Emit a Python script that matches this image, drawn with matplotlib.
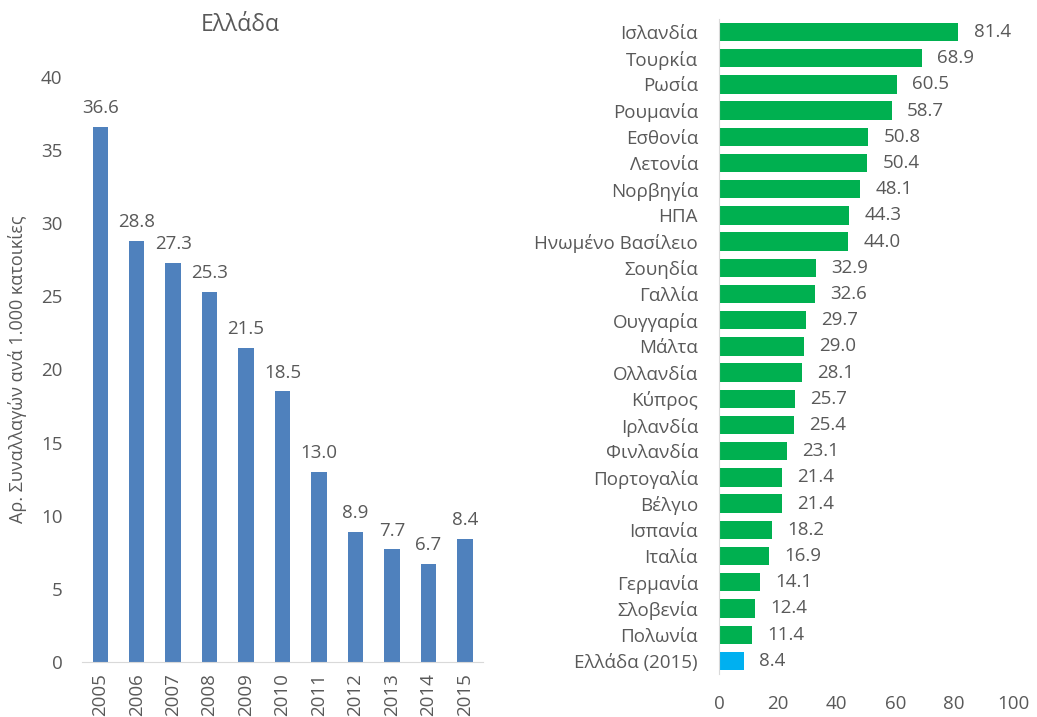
import matplotlib
matplotlib.use('Agg')
from matplotlib import pyplot as plt

plt.rcParams['font.family'] = ['Open Sans', 'DejaVu Sans']

# Αριστερό γράφημα: Ελλάδα ανά έτος
years = ['2005', '2006', '2007', '2008', '2009', '2010', '2011', '2012', '2013', '2014', '2015']
greece = [36.6, 28.8, 27.3, 25.3, 21.5, 18.5, 13.0, 8.9, 7.7, 6.7, 8.4]

# Δεξί γράφημα: σύγκριση χωρών
countries = ['Ισλανδία', 'Τουρκία', 'Ρωσία', 'Ρουμανία', 'Εσθονία', 'Λετονία', 'Νορβηγία',
             'ΗΠΑ', 'Ηνωμένο Βασίλειο', 'Σουηδία', 'Γαλλία', 'Ουγγαρία', 'Μάλτα', 'Ολλανδία',
             'Κύπρος', 'Ιρλανδία', 'Φινλανδία', 'Πορτογαλία', 'Βέλγιο', 'Ισπανία', 'Ιταλία',
             'Γερμανία', 'Σλοβενία', 'Πολωνία', 'Ελλάδα (2015)']
rates = [81.4, 68.9, 60.5, 58.7, 50.8, 50.4, 48.1, 44.3, 44.0, 32.9, 32.6, 29.7, 29.0, 28.1,
         25.7, 25.4, 23.1, 21.4, 21.4, 18.2, 16.9, 14.1, 12.4, 11.4, 8.4]

txt = '#595959'
fs = 13.5
fig = plt.figure(figsize=(10.37, 7.17), dpi=100)

# --- αριστερά ---
ax1 = fig.add_axes([0.079, 0.0767, 0.387, 0.816])
x = range(len(years))
ax1.bar(x, greece, width=0.42, color='#4F81BD')
for i, v in enumerate(greece):
    ax1.annotate('%.1f' % v, (i, v), xytext=(0, 7), textcoords='offset points',
                 ha='center', va='bottom', fontsize=fs, color=txt)
ax1.set_xlim(-0.5, 10.5)
ax1.set_ylim(0, 40)
ax1.set_yticks(range(0, 41, 5))
ax1.set_xticks(list(x))
ax1.set_xticklabels(years, rotation=90)
ax1.tick_params(axis='both', length=0, labelsize=fs, colors=txt)
ax1.tick_params(axis='y', pad=14)
ax1.tick_params(axis='x', pad=8)
for s in ['top', 'right', 'left']:
    ax1.spines[s].set_visible(False)
ax1.spines['bottom'].set_color('#D9D9D9')
ax1.set_ylabel('Αρ. Συναλλαγών ανά 1.000 κατοικίες', fontsize=13, color=txt, labelpad=10)
fig.text(0.2315, 0.965, 'Ελλάδα', ha='center', va='center', fontsize=16.5, color=txt)

# --- δεξιά ---
ax2 = fig.add_axes([0.6933, 0.06, 0.2836, 0.9136])
y = range(len(countries))
colors = ['#00B050'] * (len(countries) - 1) + ['#00B0F0']
ax2.barh(y, rates, height=0.7, color=colors)
for i, v in enumerate(rates):
    ax2.annotate('%.1f' % v, (v, i), xytext=(11, 0), textcoords='offset points',
                 ha='left', va='center', fontsize=fs, color=txt)
ax2.set_ylim(len(countries) - 0.5, -0.5)
ax2.set_xlim(0, 100)
ax2.set_xticks(range(0, 101, 20))
ax2.set_yticks(list(y))
ax2.set_yticklabels(countries)
ax2.tick_params(axis='both', length=0, labelsize=fs, colors=txt)
ax2.tick_params(axis='x', pad=15)
ax2.tick_params(axis='y', pad=15)
for s in ['top', 'right', 'bottom']:
    ax2.spines[s].set_visible(False)
ax2.spines['left'].set_color('#D9D9D9')

fig.savefig('out.png', dpi=100)
